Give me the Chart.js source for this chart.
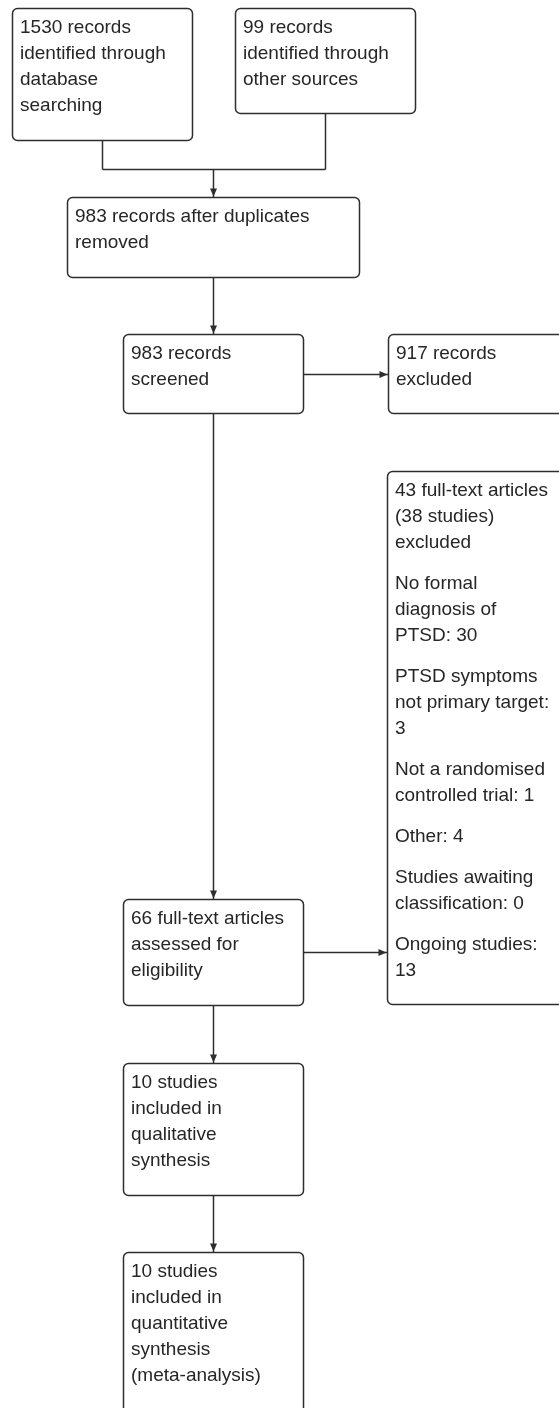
<!DOCTYPE html>
<html>
<head>
<meta charset="utf-8">
<script src="https://cdn.jsdelivr.net/npm/chart.js@4.4.1/dist/chart.umd.min.js"></script>
<style>
  html, body { margin: 0; padding: 0; background: #fff; }
  #wrap { width: 559px; height: 1408px; }
</style>
</head>
<body>
<div id="wrap"><canvas id="myChartFlujo" width="559" height="1408"></canvas></div>
<script>
// Numbers at each stage of the flow
var stageCounts = [1530, 99, 983, 983, 917, 66, 10, 10];
var stageLabels = [
  "{n} records\nidentified through\ndatabase\nsearching",
  "{n} records\nidentified through\nother sources",
  "{n} records after duplicates\nremoved",
  "{n} records\nscreened",
  "{n} records\nexcluded",
  "{n} full-text articles\nassessed for\neligibility",
  "{n} studies\nincluded in\nqualitative\nsynthesis",
  "{n} studies\nincluded in\nquantitative\nsynthesis\n(meta-analysis)"
];

// Full-text exclusions
var excludedArticles = 43;
var excludedStudies = 38;
var exclusionReasons = [
  "No formal\ndiagnosis of\nPTSD: ",
  "PTSD symptoms\nnot primary target:\n",
  "Not a randomised\ncontrolled trial: ",
  "Other: ",
  "Studies awaiting\nclassification: ",
  "Ongoing studies:\n"
];
var exclusionCounts = [30, 3, 1, 4, 0, 13];

// box placement in scale units (x: 0-559, y: 0-1408 going down)
var layout = [
  { x0: 12,  x1: 192, y0: 8,    y1: 140 },
  { x0: 235, x1: 415, y0: 8,    y1: 113 },
  { x0: 67,  x1: 359, y0: 197,  y1: 277 },
  { x0: 123, x1: 303, y0: 334,  y1: 413 },
  { x0: 388, x1: 590, y0: 334,  y1: 413 },
  { x0: 123, x1: 303, y0: 899,  y1: 1005 },
  { x0: 123, x1: 303, y0: 1063, y1: 1195 },
  { x0: 123, x1: 303, y0: 1252, y1: 1440 },
  { x0: 387, x1: 590, y0: 471,  y1: 1004 }  // exclusions box
];
// [from, to, direction]
var edges = [[2, 3, "down"], [3, 4, "right"], [3, 5, "down"], [5, 8, "right"], [5, 6, "down"], [6, 7, "down"]];
var mergeY = 169;

// paragraphs of each box
var boxParas = stageLabels.map(function (t, i) {
  return [t.replace("{n}", stageCounts[i]).split("\n")];
});
var exclParas = [[excludedArticles + " full-text articles", "(" + excludedStudies + " studies)", "excluded"]];
exclusionReasons.forEach(function (r, i) {
  exclParas.push((r + exclusionCounts[i]).split("\n"));
});
boxParas.push(exclParas);

var LINE = "#2e2e2e";

const flowPlugin = {
  id: "flow",
  afterDraw: function (chart) {
    var ctx = chart.ctx;
    var sx = chart.scales.x, sy = chart.scales.y;
    function px(v) { return Math.round(sx.getPixelForValue(v)) + 0.5; }
    function py(v) { return Math.round(sy.getPixelForValue(v)) + 0.5; }

    ctx.save();
    ctx.lineWidth = 1.5;
    ctx.strokeStyle = LINE;
    ctx.fillStyle = LINE;

    function line(x0, y0, x1, y1) {
      ctx.beginPath();
      ctx.moveTo(px(x0), py(y0));
      ctx.lineTo(px(x1), py(y1));
      ctx.stroke();
    }
    function arrow(x0, y0, x1, y1) {
      line(x0, y0, x1, y1);
      var ex = px(x1), ey = py(y1);
      ctx.beginPath();
      if (x0 === x1) {
        ey -= 1;
        ctx.moveTo(ex, ey);
        ctx.lineTo(ex - 3.5, ey - 8);
        ctx.lineTo(ex + 3.5, ey - 8);
      } else {
        ex -= 1;
        ctx.moveTo(ex, ey);
        ctx.lineTo(ex - 8, ey - 3.5);
        ctx.lineTo(ex - 8, ey + 3.5);
      }
      ctx.closePath();
      ctx.fill();
    }

    // the two sources join into one
    var a = layout[0], b = layout[1], c = layout[2];
    var ax = Math.round((a.x0 + a.x1) / 2), bx = Math.round((b.x0 + b.x1) / 2);
    var cx = Math.round((c.x0 + c.x1) / 2);
    line(ax, a.y1, ax, mergeY);
    line(bx, b.y1, bx, mergeY);
    line(ax, mergeY, bx, mergeY);
    arrow(cx, mergeY, cx, c.y0);

    edges.forEach(function (e) {
      var f = layout[e[0]], t = layout[e[1]];
      if (e[2] === "down") {
        var mx = Math.round((f.x0 + f.x1) / 2);
        arrow(mx, f.y1, mx, t.y0);
      } else {
        var my = Math.round((f.y0 + f.y1) / 2);
        arrow(f.x1, my, t.x0, my);
      }
    });

    // boxes
    layout.forEach(function (bx, i) {
      var x0 = px(bx.x0), x1 = px(bx.x1), y0 = py(bx.y0), y1 = py(bx.y1);
      ctx.beginPath();
      ctx.roundRect(x0, y0, x1 - x0, y1 - y0, 5);
      ctx.fillStyle = "#ffffff";
      ctx.fill();
      ctx.strokeStyle = LINE;
      ctx.stroke();

      ctx.fillStyle = "#262626";
      ctx.font = '19px "Liberation Sans", Arial, sans-serif';
      ctx.textBaseline = "middle";
      ctx.textAlign = "left";
      var ty = bx.y0 + 20;
      boxParas[i].forEach(function (para, p) {
        if (p > 0) ty += 15;
        para.forEach(function (ln) {
          ctx.fillText(ln, sx.getPixelForValue(bx.x0 + 8), sy.getPixelForValue(ty));
          ty += 26;
        });
      });
    });
    ctx.restore();
  }
};

const ctxFlujo = document.getElementById("myChartFlujo").getContext("2d");

const myChartFlujo = new Chart(ctxFlujo, {
  type: "scatter",
  data: {
    datasets: [
      {
        label: "boxes",
        data: layout.map(function (b) {
          return { x: (b.x0 + b.x1) / 2, y: (b.y0 + b.y1) / 2 };
        }),
        pointRadius: 0,
        pointHoverRadius: 0,
      },
    ],
  },
  options: {
    responsive: false,
    devicePixelRatio: 1,
    animation: false,
    layout: { padding: 0 },
    events: [],
    plugins: {
      legend: { display: false },
      tooltip: { enabled: false },
    },
    scales: {
      x: { type: "linear", min: 0, max: 559, display: false },
      y: { type: "linear", min: 0, max: 1408, reverse: true, display: false },
    },
  },
  plugins: [flowPlugin],
});
</script>
</body>
</html>
